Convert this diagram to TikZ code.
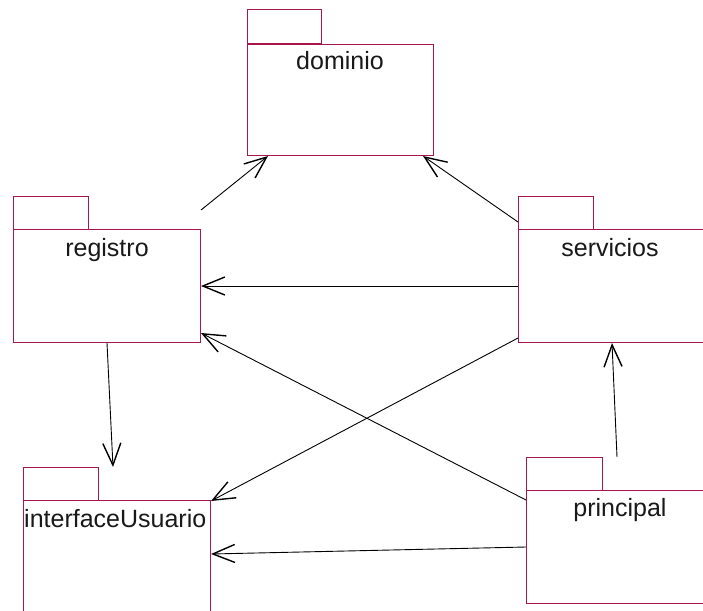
\documentclass[tikz,border=0pt]{standalone}
\usepackage{fontspec}
\setmainfont{Liberation Sans}
\usetikzlibrary{arrows.meta,calc}
\definecolor{pkgcol}{RGB}{168,22,78}
\tikzset{
  pkgbody/.style={draw=pkgcol, line width=1pt, rectangle, inner sep=0pt, anchor=north west},
  pkgtab/.style={draw=pkgcol, line width=1pt},
  pkglabel/.style={font=\fontsize{25}{30}\selectfont, inner sep=0pt, text=black!90},
  dep/.style={draw=black, line width=0.9pt, -{Straight Barb[length=22pt,width=18pt,line width=1.4pt]}}
}
\begin{document}
\begin{tikzpicture}[x=1pt,y=-1pt]
\clip (0,0) rectangle (703,610);
\fill[white] (0,0) rectangle (703,610);
% packages
\node[pkgbody, minimum width=186pt, minimum height=111pt] (dom) at (247,44) {};
\draw[pkgtab] (dom.north west) rectangle ++(74,-34);
\node[pkglabel, anchor=base] (domL) at (340,70) {dominio};

\node[pkgbody, minimum width=187pt, minimum height=113pt] (reg) at (13,229) {};
\draw[pkgtab] (reg.north west) rectangle ++(75,-33);
\node[pkglabel, anchor=base] (regL) at (107,256) {registro};

\node[pkgbody, minimum width=202pt, minimum height=113pt] (ser) at (518,229) {};
\draw[pkgtab] (ser.north west) rectangle ++(75,-33);
\node[pkglabel, anchor=base] (serL) at (610,256) {servicios};

\node[pkgbody, minimum width=187pt, minimum height=130pt] (ifu) at (23,500) {};
\draw[pkgtab] (ifu.north west) rectangle ++(75,-33);
\node[pkglabel, anchor=base west] (ifuL) at (24,527) {interfaceUsuario};

\node[pkgbody, minimum width=194pt, minimum height=113pt] (pri) at (526,490) {};
\draw[pkgtab] (pri.north west) rectangle ++(76,-33);
\node[pkglabel, anchor=base] (priL) at (620,516) {principal};

% dependencies
\draw[dep] ($(reg.north east)+(0,-19)$) -- ($(dom.south west)+(21,0)$);
\draw[dep] ($(ser.north west)+(0,-7)$) -- ($(dom.south east)+(-11,0)$);
\draw[dep] ($(ser.north west)+(0,57)$) -- ($(reg.north east)+(0,57)$);
\draw[dep] ($(ser.south west)+(0,-5)$) -- ($(ifu.north east)+(0,1)$);
\draw[dep] ($(pri.north west)+(0,10)$) -- ($(reg.south east)+(0,-10)$);
\draw[dep] ($(pri.north west)+(91,-33)$) -- ($(ser.south west)+(94,0)$);
\draw[dep] ($(pri.north west)+(0,57)$) -- ($(ifu.north east)+(0,54)$);
\draw[dep] ($(reg.south west)+(94,0)$) -- ($(ifu.north west)+(90,-33)$);
\end{tikzpicture}
\end{document}
